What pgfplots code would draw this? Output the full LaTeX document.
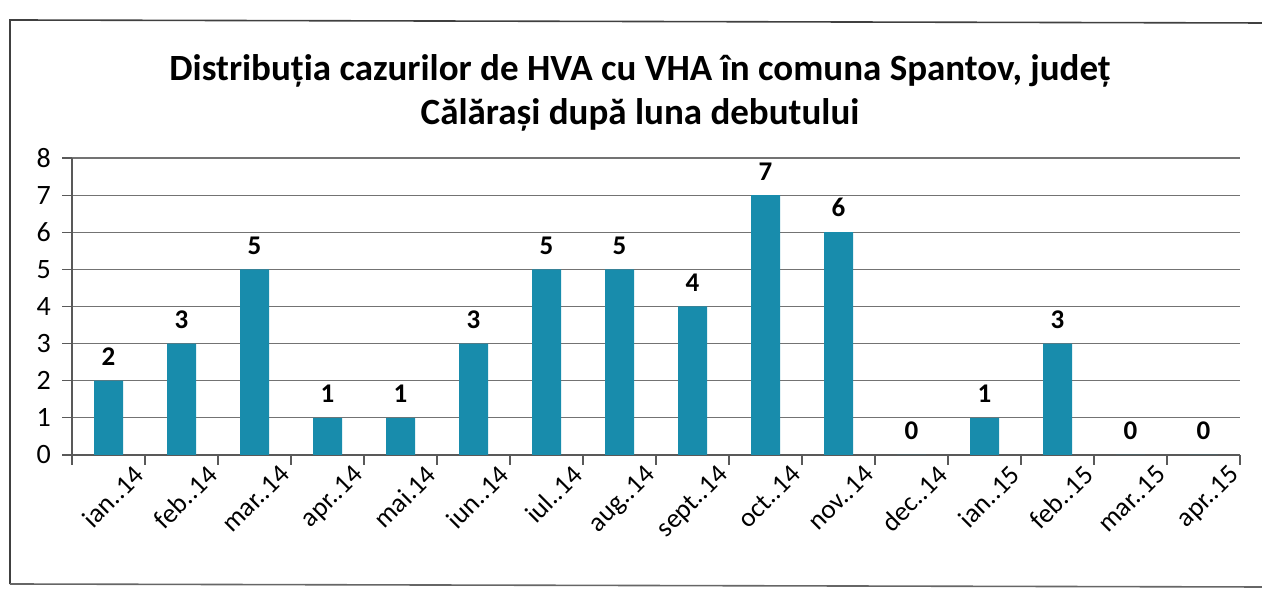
\documentclass[border=0pt]{standalone}
\usepackage{pgfplots}
\pgfplotsset{compat=1.18}
\usepackage{fontspec}
\setmainfont{Carlito}
\definecolor{barblue}{RGB}{24,140,172}
\begin{document}
\begin{tikzpicture}
\path[use as bounding box] (0,0) rectangle (631pt,298.5pt);
\draw[black!75, line width=0.8pt] (5pt,6.5pt) -- (5pt,288.5pt) -- (631pt,287pt);
\draw[black!60, line width=0.8pt] (5pt,6.5pt) -- (631pt,5pt);
\node[font=\fontsize{18.5}{22}\selectfont\bfseries, align=center] at (320pt,252pt)
  {Distribuția cazurilor de HVA cu VHA în comuna Spantov, județ\\Călărași după luna debutului};
\begin{axis}[
  at={(36pt,71pt)}, anchor=south west,
  scale only axis, width=584pt, height=148.5pt,
  xmin=-0.5, xmax=15.5, ymin=0, ymax=8,
  ytick={0,...,8},
  xtick={-0.5,0.5,...,15.5},
  xticklabels={},
  extra x ticks={0,...,15},
  extra x tick labels={ian..14,feb..14,mar..14,apr..14,mai.14,iun..14,iul..14,aug..14,sept..14,oct..14,nov..14,dec..14,ian..15,feb..15,mar..15,apr..15},
  extra x tick style={major tick length=0pt, tick style={draw=none},
    xticklabel style={rotate=45, anchor=north east, font=\fontsize{13.5}{16}\selectfont, xshift=9pt, yshift=-8pt}},
  axis x line*=bottom, axis y line*=left,
  axis line style={black!65, line width=0.6pt},
  tick style={black!65, line width=0.6pt},
  major tick length=5pt,
  tick align=outside,
  ymajorgrids, grid style={black!55, line width=0.6pt},
  yticklabel style={font=\fontsize{14}{16}\selectfont, xshift=-2pt},
  /pgf/number format/assume math mode=true,
  ybar, bar width=14.5pt,
  nodes near coords,
  every node near coord/.append style={font=\fontsize{13.5}{16}\selectfont\bfseries, yshift=4pt},
  clip=false,
]
\addplot[fill=barblue, draw=none] coordinates {
(0,2) (1,3) (2,5) (3,1) (4,1) (5,3) (6,5) (7,5) (8,4) (9,7) (10,6) (11,0) (12,1) (13,3) (14,0) (15,0)};
\end{axis}
\end{tikzpicture}
\end{document}
